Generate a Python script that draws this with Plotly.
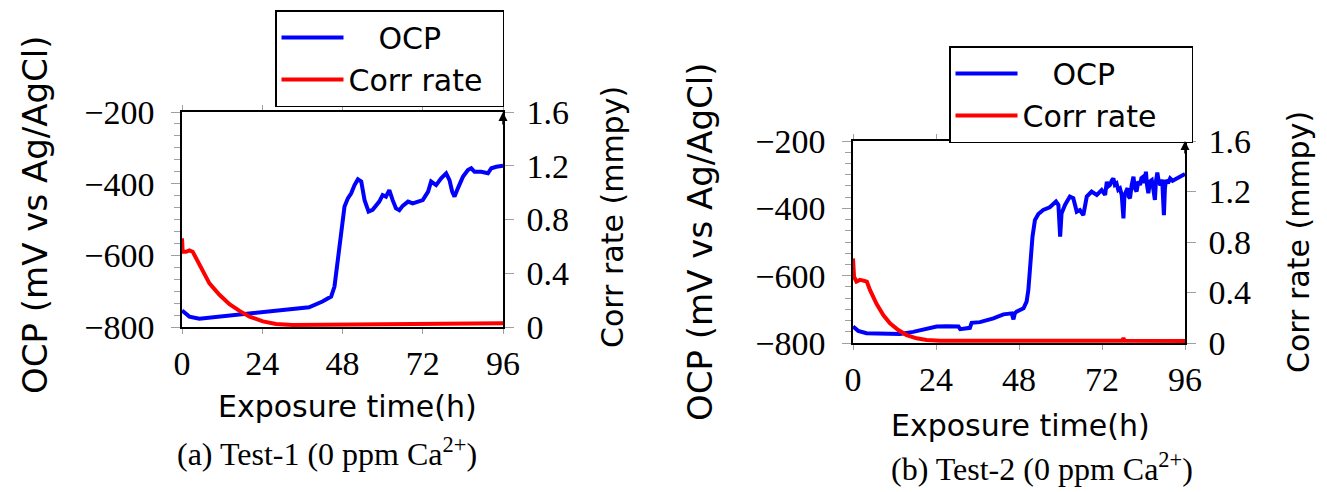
import plotly.graph_objects as go

W, H = 1327, 492

# ---------------- data: panel (a) Test-1 ----------------
t_a_ocp = [0, 2.2, 5.2, 11, 16, 24, 31, 38, 42, 44.6, 45.6, 46.6, 47.6, 48.6, 49.6, 50.6,
           51.6, 52.6, 53.6, 54.6, 55.8, 57, 59, 60, 61, 62, 63, 64, 65, 66, 67.6, 69,
           70.6, 72, 73.6, 74.5, 76, 77.5, 79, 80, 80.8, 81.5, 82.5, 84, 85.5, 86.5, 87.5,
           89.5, 91.5, 92.5, 94, 96]
ocp_a = [-754, -771, -777, -771, -766, -760, -753, -745, -729, -715, -687, -613, -539, -464,
         -441, -427, -404, -388, -394, -446, -478, -473, -450, -432, -436, -418, -446, -469,
         -474, -462, -450, -455, -450, -446, -422, -394, -404, -385, -371, -390, -422, -436,
         -413, -381, -362, -357, -367, -367, -371, -357, -353, -350]
t_a_cr = [0, 0.2, 1.2, 2.2, 3.2, 4.2, 6.2, 8.2, 11.2, 14.2, 17.2, 20.2, 24.2, 28.1, 33, 41,
          56, 76, 96]
cr_a = [0.66, 0.56, 0.56, 0.57, 0.56, 0.51, 0.41, 0.325, 0.24, 0.17, 0.12, 0.077, 0.042,
        0.022, 0.015, 0.017, 0.02, 0.022, 0.027]

# ---------------- data: panel (b) Test-2 ----------------
t_b_ocp = [0, 1.5, 3.9, 7.8, 13.6, 17.4, 21.3, 24.2, 27.1, 30.5, 31, 32.4, 33.8, 34.3, 36.7,
           40.6, 43.5, 45.9, 46.4, 46.8, 47.3, 49.3, 50.2, 50.7, 51.2, 51.9, 52.6, 53.6, 55,
           56.9, 58.7, 59.4, 59.9, 60.3, 61.3, 62.7, 63.7, 64.7, 65.6, 66.6, 67.6, 69, 70.5,
           71.9, 72.9, 73.4, 73.8, 74.3, 74.8, 75.3, 75.7, 76.2, 76.7, 77.2, 77.7, 78.2, 78.5,
           78.9, 79.4, 79.7, 80.1, 80.6, 81.1, 81.5, 82, 82.5, 83, 83.4, 83.9, 84.3, 84.7, 85,
           85.4, 85.9, 86.4, 86.8, 87.3, 87.6, 88, 88.4, 88.9, 89.4, 89.9, 90.2, 90.5, 91.1,
           91.7, 92.4, 93.1, 93.8, 94.6, 95.3, 96]
ocp_b = [-751, -764, -771, -773, -773, -767, -757, -751, -750, -751, -759, -758, -755, -740,
         -738, -727, -715, -712, -730, -712, -707, -697, -677, -643, -563, -484, -435, -417,
         -405, -397, -380, -390, -484, -415, -390, -365, -370, -410, -405, -420, -365, -350,
         -360, -346, -360, -321, -335, -331, -318, -311, -330, -326, -345, -341, -360, -430,
         -360, -350, -340, -365, -370, -330, -306, -340, -350, -320, -331, -310, -306, -325,
         -291, -330, -355, -320, -316, -340, -375, -320, -294, -320, -331, -315, -420, -340,
         -316, -325, -311, -318, -314, -310, -306, -302, -298]
t_b_cr = [0, 0.3, 1, 2, 3, 4, 4.9, 6.8, 8.8, 10.7, 13.1, 15.5, 18.4, 21.3, 25.2, 44.4, 77.8,
          78.2, 78.6, 96]
cr_b = [0.67, 0.525, 0.486, 0.5, 0.494, 0.486, 0.42, 0.31, 0.22, 0.156, 0.103, 0.063, 0.037,
        0.024, 0.018, 0.016, 0.018, 0.037, 0.018, 0.016]

x_ticks = [0, 24, 48, 72, 96]
ocp_ticks = [-800, -600, -400, -200]
cr_ticks = [0, 0.4, 0.8, 1.2, 1.6]
cr_ticktext = ["0", "0.4", "0.8", "1.2", "1.6"]
ocp_range = [-800, -200]
cr_range = [0, 1.6]
x_range = [0, 96]

SERIF = "Liberation Serif"
SANS = "DejaVu Sans"
BLUE = "#0000ff"
RED = "#ff0000"
TICKC = "#a0a0a0"
EN = "\u2002"
EM = "\u2003"


def px(xp):
    return xp / W


def py(yp):
    return 1 - yp / H


fig = go.Figure()
fig.add_trace(go.Scatter(x=t_a_ocp, y=ocp_a, mode="lines", name=EN * 2 + "OCP",
                         line=dict(color=BLUE, width=4), xaxis="x", yaxis="y", legend="legend"))
fig.add_trace(go.Scatter(x=t_a_cr, y=cr_a, mode="lines", name="Corr rate" + EN,
                         line=dict(color=RED, width=4), xaxis="x", yaxis="y2", legend="legend"))
fig.add_trace(go.Scatter(x=t_b_ocp, y=ocp_b, mode="lines", name=EN * 2 + "OCP",
                         line=dict(color=BLUE, width=4), xaxis="x2", yaxis="y3", legend="legend2"))
fig.add_trace(go.Scatter(x=t_b_cr, y=cr_b, mode="lines", name="Corr rate" + EM,
                         line=dict(color=RED, width=4), xaxis="x2", yaxis="y4", legend="legend2"))

tickfont = dict(family=SERIF, size=34, color="black")


def xax(dom, anchor):
    return dict(domain=dom, anchor=anchor, range=x_range, tickvals=x_ticks,
                showgrid=False, zeroline=False, showline=True, linecolor="black", linewidth=1.5,
                mirror="allticks", ticks="outside", ticklen=5, tickcolor=TICKC, tickwidth=1,
                tickfont=tickfont, automargin=False)


def yleft(dom, anchor):
    return dict(domain=dom, anchor=anchor, range=ocp_range, tickvals=ocp_ticks,
                showgrid=False, zeroline=False, showline=True, linecolor="black", linewidth=1.5,
                mirror=True, ticks="outside", ticklen=9, tickcolor=TICKC, tickwidth=1,
                tickfont=tickfont, ticklabelstandoff=10, automargin=False,
                minor=dict(dtick=100 / 3, tick0=-800, ticks="outside", ticklen=6,
                           tickcolor=TICKC, tickwidth=1, showgrid=False))


def yright(dom, anchor, over):
    return dict(domain=dom, anchor=anchor, overlaying=over, side="right", range=cr_range,
                tickvals=cr_ticks, ticktext=cr_ticktext,
                showgrid=False, zeroline=False, showline=True, linecolor="black", linewidth=1.5,
                ticks="outside", ticklen=9, tickcolor=TICKC, tickwidth=1,
                tickfont=tickfont, ticklabelstandoff=6, automargin=False)


dom_xa = [px(182), px(503)]
dom_ya = [py(327), py(112)]
dom_xb = [px(853), px(1185)]
dom_yb = [py(343), py(141)]

legend_common = dict(bgcolor="white", bordercolor="black", borderwidth=1.5,
                     font=dict(family=SANS, size=30, color="black"),
                     itemwidth=62, xanchor="left", yanchor="top", tracegroupgap=0)

ann = []


def title(text, xp, yp, size, angle=0, family=SANS):
    ann.append(dict(text=text, x=px(xp), y=py(yp), xref="paper", yref="paper",
                    showarrow=False, textangle=angle, xanchor="center", yanchor="middle",
                    font=dict(family=family, size=size, color="black")))


title("OCP (mV vs Ag/AgCl)", 35, 215, 34, -90)
title("Corr rate (mmpy)", 612, 217, 30, -90)
title("Exposure time(h)", 347, 406, 30)
title("(a) Test-1 (0 ppm Ca<sup>2+</sup>)", 327, 452, 32, 0, SERIF)

title("OCP (mV vs Ag/AgCl)", 700, 242, 34, -90)
title("Corr rate (mmpy)", 1298, 242, 30, -90)
title("Exposure time(h)", 1020, 425, 30)
title("(b) Test-2 (0 ppm Ca<sup>2+</sup>)", 1042, 467, 32, 0, SERIF)

# arrow heads on top of the right axes
for xr, yr in [(503, 112), (1185, 141)]:
    ann.append(dict(x=px(xr), y=py(yr), xref="paper", yref="paper", text="",
                    showarrow=True, ax=0, ay=14, arrowhead=2, arrowsize=1.2,
                    arrowwidth=1.5, arrowcolor="black"))

fig.update_layout(
    width=W, height=H, margin=dict(l=0, r=0, t=0, b=0, pad=0, autoexpand=False),
    paper_bgcolor="white", plot_bgcolor="white",
    xaxis=xax(dom_xa, "y"),
    yaxis=yleft(dom_ya, "x"),
    yaxis2=yright(dom_ya, "x", "y"),
    xaxis2=xax(dom_xb, "y3"),
    yaxis3=yleft(dom_yb, "x2"),
    yaxis4=yright(dom_yb, "x2", "y3"),
    legend=dict(x=px(275), y=py(10), **legend_common),
    legend2=dict(x=px(949), y=py(46), **legend_common),
    annotations=ann,
    showlegend=True,
)

fig.write_html("out.html")
